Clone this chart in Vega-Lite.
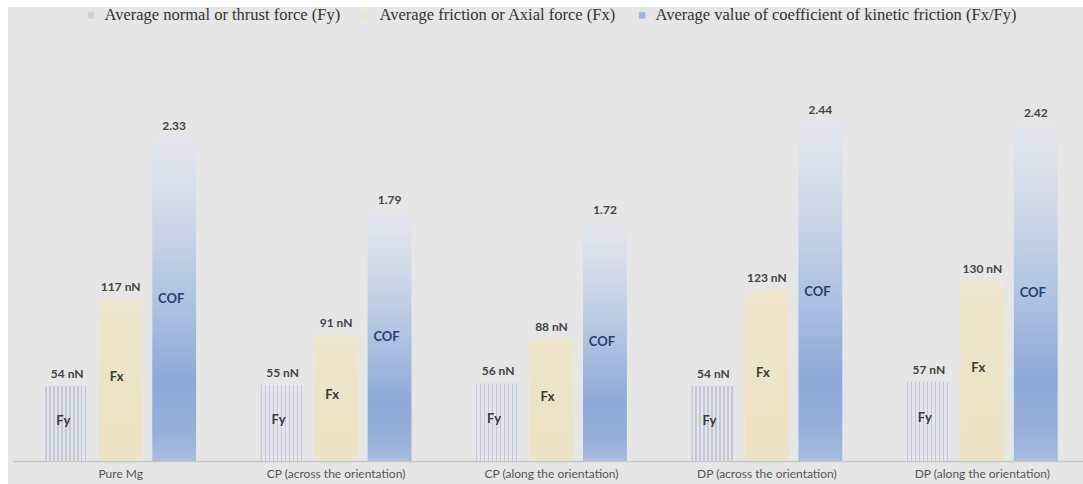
{
  "$schema": "https://vega.github.io/schema/vega-lite/v6.json",
  "width": 1083,
  "height": 484,
  "autosize": {"type": "fit", "contains": "padding"},
  "padding": {"left": 8, "top": 7, "right": 0, "bottom": 0},
  "background": "#ffffff",
  "config": {
    "view": {"fill": "#e6e6e6", "stroke": null},
    "font": "Lato",
    "axis": {"domainColor": "#c6c6c6", "domainWidth": 1.5}
  },
  "data": {
    "values": [
      {"sample": "Pure Mg", "series": "Fy", "name": "Average normal or thrust force (Fy)", "value": 54, "label": "54 nN"},
      {"sample": "Pure Mg", "series": "Fx", "name": "Average friction or Axial force (Fx)", "value": 117, "label": "117 nN"},
      {"sample": "Pure Mg", "series": "COF", "name": "Average value of coefficient of kinetic friction (Fx/Fy)", "value": 2.33, "label": "2.33"},
      {"sample": "CP (across the orientation)", "series": "Fy", "name": "Average normal or thrust force (Fy)", "value": 55, "label": "55 nN"},
      {"sample": "CP (across the orientation)", "series": "Fx", "name": "Average friction or Axial force (Fx)", "value": 91, "label": "91 nN"},
      {"sample": "CP (across the orientation)", "series": "COF", "name": "Average value of coefficient of kinetic friction (Fx/Fy)", "value": 1.79, "label": "1.79"},
      {"sample": "CP (along the orientation)", "series": "Fy", "name": "Average normal or thrust force (Fy)", "value": 56, "label": "56 nN"},
      {"sample": "CP (along the orientation)", "series": "Fx", "name": "Average friction or Axial force (Fx)", "value": 88, "label": "88 nN"},
      {"sample": "CP (along the orientation)", "series": "COF", "name": "Average value of coefficient of kinetic friction (Fx/Fy)", "value": 1.72, "label": "1.72"},
      {"sample": "DP (across the orientation)", "series": "Fy", "name": "Average normal or thrust force (Fy)", "value": 54, "label": "54 nN"},
      {"sample": "DP (across the orientation)", "series": "Fx", "name": "Average friction or Axial force (Fx)", "value": 123, "label": "123 nN"},
      {"sample": "DP (across the orientation)", "series": "COF", "name": "Average value of coefficient of kinetic friction (Fx/Fy)", "value": 2.44, "label": "2.44"},
      {"sample": "DP (along the orientation)", "series": "Fy", "name": "Average normal or thrust force (Fy)", "value": 57, "label": "57 nN"},
      {"sample": "DP (along the orientation)", "series": "Fx", "name": "Average friction or Axial force (Fx)", "value": 130, "label": "130 nN"},
      {"sample": "DP (along the orientation)", "series": "COF", "name": "Average value of coefficient of kinetic friction (Fx/Fy)", "value": 2.42, "label": "2.42"}
    ]
  },
  "encoding": {
    "x": {
      "field": "sample",
      "type": "nominal",
      "sort": ["Pure Mg", "CP (across the orientation)", "CP (along the orientation)", "DP (across the orientation)", "DP (along the orientation)"],
      "scale": {"range": [5, 1082], "paddingInner": 0.3, "paddingOuter": 0.15},
      "axis": {"title": null, "labelAngle": 0, "ticks": false, "offset": -23, "labelPadding": 7, "labelFontSize": 12, "labelColor": "#555555", "labelFont": "Lato", "labelLimit": 0}
    },
    "xOffset": {
      "field": "series",
      "type": "nominal",
      "scale": {"domain": ["Fy", "Fx", "COF"], "paddingInner": 0.18, "paddingOuter": 0}
    }
  },
  "resolve": {"scale": {"y": "independent"}},
  "layer": [
    {
      "mark": {"type": "bar", "opacity": 0},
      "encoding": {
        "y": {"field": "value", "type": "quantitative", "scale": {"domain": [0, 327], "range": [454, 0]}, "axis": null},
        "color": {
          "field": "name",
          "type": "nominal",
          "scale": {
            "domain": ["Average normal or thrust force (Fy)", "Average friction or Axial force (Fx)", "Average value of coefficient of kinetic friction (Fx/Fy)"],
            "range": ["#cdd3dc", "#eee3c4", "#9db4dc"]
          },
          "legend": {
            "orient": "none",
            "legendX": 75,
            "legendY": 0,
            "direction": "horizontal",
            "title": null,
            "symbolType": "square",
            "symbolSize": 40,
            "symbolOpacity": 1,
            "symbolStrokeWidth": 0,
            "labelFont": "Liberation Serif",
            "labelFontSize": 16.5,
            "labelColor": "#333333",
            "labelLimit": 0,
            "labelOffset": 5,
            "columnPadding": 17,
            "padding": 0
          }
        }
      }
    },
    {
      "transform": [{"filter": "datum.series === 'Fy'"}],
      "mark": {
        "type": "bar",
        "fill": {
          "gradient": "linear", "x1": 0, "y1": 0, "x2": 1, "y2": 0,
          "stops": [
            {"offset": 0, "color": "#c1c8d3"}, {"offset": 0.03, "color": "#c1c8d3"}, {"offset": 0.03, "color": "#e3e7ed"}, {"offset": 0.0909, "color": "#e3e7ed"},
            {"offset": 0.0909, "color": "#c1c8d3"}, {"offset": 0.1209, "color": "#c1c8d3"}, {"offset": 0.1209, "color": "#e3e7ed"}, {"offset": 0.1818, "color": "#e3e7ed"},
            {"offset": 0.1818, "color": "#c1c8d3"}, {"offset": 0.2118, "color": "#c1c8d3"}, {"offset": 0.2118, "color": "#e3e7ed"}, {"offset": 0.2727, "color": "#e3e7ed"},
            {"offset": 0.2727, "color": "#c1c8d3"}, {"offset": 0.3027, "color": "#c1c8d3"}, {"offset": 0.3027, "color": "#e3e7ed"}, {"offset": 0.3636, "color": "#e3e7ed"},
            {"offset": 0.3636, "color": "#c1c8d3"}, {"offset": 0.3936, "color": "#c1c8d3"}, {"offset": 0.3936, "color": "#e3e7ed"}, {"offset": 0.4545, "color": "#e3e7ed"},
            {"offset": 0.4545, "color": "#c1c8d3"}, {"offset": 0.4845, "color": "#c1c8d3"}, {"offset": 0.4845, "color": "#e3e7ed"}, {"offset": 0.5455, "color": "#e3e7ed"},
            {"offset": 0.5455, "color": "#c1c8d3"}, {"offset": 0.5755, "color": "#c1c8d3"}, {"offset": 0.5755, "color": "#e3e7ed"}, {"offset": 0.6364, "color": "#e3e7ed"},
            {"offset": 0.6364, "color": "#c1c8d3"}, {"offset": 0.6664, "color": "#c1c8d3"}, {"offset": 0.6664, "color": "#e3e7ed"}, {"offset": 0.7273, "color": "#e3e7ed"},
            {"offset": 0.7273, "color": "#c1c8d3"}, {"offset": 0.7573, "color": "#c1c8d3"}, {"offset": 0.7573, "color": "#e3e7ed"}, {"offset": 0.8182, "color": "#e3e7ed"},
            {"offset": 0.8182, "color": "#c1c8d3"}, {"offset": 0.8482, "color": "#c1c8d3"}, {"offset": 0.8482, "color": "#e3e7ed"}, {"offset": 0.9091, "color": "#e3e7ed"},
            {"offset": 0.9091, "color": "#c1c8d3"}, {"offset": 0.9391, "color": "#c1c8d3"}, {"offset": 0.9391, "color": "#e3e7ed"}, {"offset": 1, "color": "#e3e7ed"}
          ]
        }
      },
      "encoding": {
        "y": {"field": "value", "type": "quantitative", "scale": {"domain": [0, 327], "range": [454, 0]}, "axis": null}
      }
    },
    {
      "transform": [{"filter": "datum.series === 'Fx'"}],
      "mark": {
        "type": "bar",
        "fill": {
          "gradient": "linear", "x1": 0, "y1": 0, "x2": 0, "y2": 1,
          "stops": [
            {"offset": 0, "color": "#f0e8d3"},
            {"offset": 0.15, "color": "#eee4c8"},
            {"offset": 1, "color": "#ede2c3"}
          ]
        }
      },
      "encoding": {
        "y": {"field": "value", "type": "quantitative", "scale": {"domain": [0, 327], "range": [454, 0]}, "axis": null}
      }
    },
    {
      "transform": [{"filter": "datum.series === 'COF'"}],
      "mark": {
        "type": "bar",
        "fill": {
          "gradient": "linear", "x1": 0, "y1": 0, "x2": 0, "y2": 1,
          "stops": [
            {"offset": 0, "color": "#e4e7ee"},
            {"offset": 0.25, "color": "#cfd8e8"},
            {"offset": 0.5, "color": "#afc3e2"},
            {"offset": 0.75, "color": "#8eaad8"},
            {"offset": 0.9, "color": "#94afd9"},
            {"offset": 1, "color": "#a8bcdf"}
          ]
        }
      },
      "encoding": {
        "y": {"field": "value", "type": "quantitative", "scale": {"domain": [0, 3.27], "range": [454, 0]}, "axis": null}
      }
    },
    {
      "transform": [{"filter": "datum.series !== 'COF'"}],
      "mark": {"type": "text", "baseline": "alphabetic", "dy": -8, "fontSize": 12, "fontWeight": "bold", "color": "#444444", "font": "Lato"},
      "encoding": {
        "y": {"field": "value", "type": "quantitative", "scale": {"domain": [0, 327], "range": [454, 0]}, "axis": null},
        "text": {"field": "label"}
      }
    },
    {
      "transform": [{"filter": "datum.series === 'COF'"}],
      "mark": {"type": "text", "baseline": "alphabetic", "dy": -8, "fontSize": 12, "fontWeight": "bold", "color": "#444444", "font": "Lato"},
      "encoding": {
        "y": {"field": "value", "type": "quantitative", "scale": {"domain": [0, 3.27], "range": [454, 0]}, "axis": null},
        "text": {"field": "label"}
      }
    },
    {
      "transform": [{"filter": "datum.series !== 'COF'"}],
      "mark": {"type": "text", "baseline": "middle", "dx": -4, "dy": -3, "fontSize": 13, "fontWeight": "bold", "color": "#3a3a3a", "font": "Lato"},
      "encoding": {
        "y": {"field": "value", "type": "quantitative", "scale": {"domain": [0, 654], "range": [454, 0]}, "axis": null},
        "text": {"field": "series"}
      }
    },
    {
      "transform": [{"filter": "datum.series === 'COF'"}],
      "mark": {"type": "text", "baseline": "middle", "dx": -3, "fontSize": 13, "fontWeight": "bold", "color": "#24406e", "font": "Lato"},
      "encoding": {
        "y": {"field": "value", "type": "quantitative", "scale": {"domain": [0, 6.54], "range": [454, 0]}, "axis": null},
        "text": {"field": "series"}
      }
    }
  ]
}
